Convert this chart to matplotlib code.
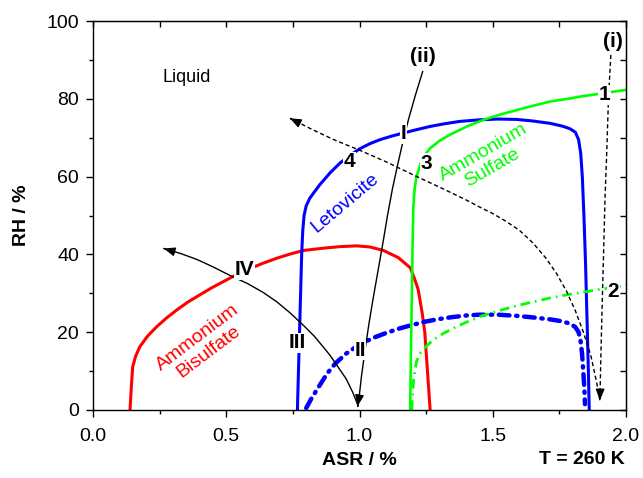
import numpy as np
import matplotlib
matplotlib.use("Agg")
import matplotlib.pyplot as plt

plt.rcParams['font.family'] = ['Liberation Sans', 'DejaVu Sans']

# Ammonium bisulfate (red)
abs_x = [0.139, 0.144, 0.149, 0.160, 0.176, 0.205, 0.239, 0.275, 0.314, 0.355, 0.401, 0.445,
         0.489, 0.533, 0.577, 0.633, 0.689, 0.74, 0.789, 0.864, 0.927, 0.99, 1.04, 1.09,
         1.145, 1.19, 1.205, 1.22, 1.235, 1.245, 1.255, 1.265]
abs_y = [0.0, 6.0, 11.1, 13.8, 16.3, 19.0, 21.4, 23.6, 25.7, 27.7, 29.6, 31.4,
         33.0, 34.6, 36.0, 37.6, 39.0, 40.1, 41.0, 41.6, 42.0, 42.2, 41.9, 41.0,
         39.2, 36.6, 34.0, 31.0, 25.0, 20.0, 10.0, 0.0]

# Letovicite (blue solid)
let_x = [0.767, 0.771, 0.775, 0.779, 0.783, 0.787, 0.792, 0.80, 0.814, 0.83, 0.852, 0.89,
         0.927, 0.965, 1.002, 1.04, 1.077, 1.12, 1.164, 1.21, 1.265, 1.32, 1.377, 1.45,
         1.52, 1.59, 1.65, 1.715, 1.76, 1.79, 1.81, 1.822, 1.83, 1.836, 1.842, 1.848,
         1.853, 1.858, 1.862]
let_y = [0.0, 10.0, 20.0, 30.0, 40.0, 46.0, 50.0, 52.5, 54.5, 56.0, 58.0, 61.0,
         63.5, 65.5, 67.2, 68.5, 69.5, 70.4, 71.2, 72.0, 72.9, 73.6, 74.2, 74.6,
         74.8, 74.7, 74.3, 73.7, 73.0, 72.3, 71.4, 69.5, 66.0, 60.0, 50.0, 38.0,
         25.0, 12.0, 0.0]

# Letovicite (blue dash-dot)
let2_x = [0.80, 0.82, 0.852, 0.88, 0.91, 0.95, 1.0, 1.05, 1.10, 1.152, 1.2, 1.246, 1.3,
          1.35, 1.402, 1.45, 1.52, 1.59, 1.65, 1.715, 1.76, 1.79, 1.81, 1.822, 1.83,
          1.835, 1.84, 1.844, 1.846]
let2_y = [0.5, 3.0, 6.5, 9.5, 12.0, 14.5, 16.8, 18.5, 19.8, 21.0, 21.9, 22.7, 23.4,
          23.9, 24.3, 24.5, 24.5, 24.2, 23.8, 23.3, 22.8, 22.2, 21.3, 20.0, 17.5,
          14.5, 9.5, 5.0, 1.5]

# Ammonium sulfate (green solid)
as_x = [1.19, 1.193, 1.196, 1.199, 1.202, 1.207, 1.214, 1.23, 1.25, 1.265, 1.30, 1.34,
        1.40, 1.465, 1.53, 1.59, 1.65, 1.715, 1.78, 1.84, 1.92, 2.0]
as_y = [0.0, 15.0, 28.0, 42.0, 52.0, 57.0, 60.0, 63.5, 66.0, 67.3, 69.2, 70.8,
        72.8, 74.6, 76.0, 77.1, 78.2, 79.3, 80.0, 80.7, 81.5, 82.3]

# Ammonium sulfate (green dash-dot)
as2_x = [1.196, 1.199, 1.203, 1.214, 1.23, 1.252, 1.28, 1.315, 1.36, 1.402, 1.46, 1.527,
         1.59, 1.652, 1.715, 1.777, 1.84, 1.89, 1.95, 2.0]
as2_y = [0.0, 4.0, 8.0, 12.5, 14.8, 16.5, 18.2, 19.7, 21.3, 22.6, 24.2, 25.6,
         26.8, 27.8, 28.8, 29.6, 30.3, 30.9, 31.5, 32.1]

# path (ii): down to the bottom
p2_x = [1.237, 1.21, 1.185, 1.163, 1.143, 1.124, 1.105, 1.088, 1.07, 1.052, 1.035, 1.02,
        1.008, 0.998, 0.993]
p2_y = [87.0, 81.0, 75.0, 69.0, 63.0, 57.0, 50.0, 43.0, 36.0, 29.0, 22.0, 15.0,
        9.0, 3.0, 1.0]

# path (ii): back up through III and IV
p2b_x = [0.995, 0.975, 0.95, 0.92, 0.89, 0.864, 0.83, 0.789, 0.739, 0.69, 0.639, 0.58,
         0.514, 0.45, 0.39, 0.33, 0.266]
p2b_y = [1.0, 4.5, 8.0, 11.0, 14.0, 16.2, 19.0, 21.8, 25.0, 27.8, 30.2, 32.5,
         34.6, 36.8, 38.7, 40.2, 41.5]

# path (i): down
p1_x = [1.943, 1.938, 1.934, 1.928, 1.921, 1.916, 1.911, 1.906, 1.902]
p1_y = [91.3, 85.0, 79.7, 67.0, 54.0, 41.0, 28.3, 15.0, 2.5]

# path (i): back up through 3 and 4
p1b_x = [1.902, 1.89, 1.868, 1.84, 1.81, 1.777, 1.74, 1.70, 1.65, 1.60, 1.55, 1.50,
         1.45, 1.40, 1.30, 1.20, 1.10, 1.00, 0.90, 0.82, 0.739]
p1b_y = [2.5, 7.0, 14.0, 20.0, 25.5, 30.5, 35.0, 39.0, 43.0, 46.2, 48.5, 50.5,
         52.2, 54.0, 57.3, 60.5, 63.8, 66.8, 69.6, 72.2, 75.0]

point_labels = ['(ii)', '(i)', '1', '2', '3', '4', 'I', 'II', 'III', 'IV']
point_x = [1.239, 1.952, 1.921, 1.952, 1.252, 0.964, 1.164, 1.002, 0.767, 0.57]
point_y = [90.8, 94.7, 81.0, 30.4, 63.4, 63.8, 71.1, 15.4, 17.3, 36.0]

fig = plt.figure(figsize=(6.43, 4.78), dpi=100)
ax = fig.add_axes([0.1446, 0.1423, 0.829, 0.8137])

ax.plot(abs_x, abs_y, color='#ff0000', lw=2.2)
ax.plot(let_x, let_y, color='#0000ff', lw=2.2)
ax.plot(let2_x, let2_y, color='#0000ff', lw=3.2, ls=(0, (2.4, 1.5, 0.3, 1.5)),
        dash_capstyle='round')
ax.plot(as_x, as_y, color='#00ff00', lw=1.9)
ax.plot(as2_x, as2_y, color='#00ff00', lw=2.0, ls=(0, (3.5, 1.8, 0.6, 1.8)))

ax.plot(p2_x, p2_y, color='black', lw=1.0)
ax.plot(p2b_x, p2b_y, color='black', lw=1.0)
ax.plot(p1_x, p1_y, color='black', lw=1.0, ls=(0, (3, 2)))
ax.plot(p1b_x, p1b_y, color='black', lw=1.0, ls=(0, (3, 2)))

# arrow heads at the ends of the paths
for xs, ys in [(p2_x, p2_y), (p2b_x, p2b_y), (p1_x, p1_y), (p1b_x, p1b_y)]:
    x0, y0 = xs[-2], ys[-2]
    x1, y1 = xs[-1], ys[-1]
    ax.annotate('', xy=(x1, y1), xytext=(x1 - 0.05 * (x1 - x0), y1 - 0.05 * (y1 - y0)),
                arrowprops=dict(arrowstyle='-|>,head_length=0.55,head_width=0.22',
                                color='black', lw=1.0, shrinkA=0, shrinkB=0,
                                mutation_scale=12))

for t, x, y in zip(point_labels, point_x, point_y):
    ax.text(x, y, t, fontsize=15, fontweight='bold', ha='center', va='center',
            bbox=dict(facecolor='white', edgecolor='none', pad=0.5), zorder=5)

ax.text(0.352, 85.5, 'Liquid', fontsize=13, ha='center', va='center')
ax.text(0.946, 53.1, 'Letovicite', fontsize=14, color='#0000ff', rotation=40,
        ha='center', va='center', rotation_mode='anchor')
ax.text(1.48, 64.3, 'Ammonium\nSulfate', fontsize=14, color='#00ff00', rotation=30,
        ha='center', va='center', rotation_mode='anchor', multialignment='center',
        linespacing=1.05)
ax.text(0.414, 16.7, 'Ammonium\nBisulfate', fontsize=14, color='#ff0000', rotation=37,
        ha='center', va='center', rotation_mode='anchor', multialignment='center',
        linespacing=1.05)

ax.set_xlim(0, 2.0)
ax.set_ylim(0, 100)
ax.set_xticks([0.0, 0.5, 1.0, 1.5, 2.0])
ax.set_xticklabels(['0.0', '0.5', '1.0', '1.5', '2.0'])
ax.set_xticks(np.arange(0, 2.01, 0.25), minor=True)
ax.set_yticks([0, 20, 40, 60, 80, 100])
ax.set_yticks(np.arange(0, 101, 10), minor=True)
ax.tick_params(which='major', direction='out', length=5, width=1, labelsize=14)
ax.tick_params(axis='x', which='major', pad=8)
ax.tick_params(axis='y', which='major', pad=5)
ax.tick_params(which='minor', direction='out', length=3, width=1)

top = ax.secondary_xaxis('top')
top.set_xticks(np.arange(0, 2.01, 0.25))
top.tick_params(direction='in', length=4.5, width=1, labeltop=False)
right = ax.secondary_yaxis('right')
right.set_yticks(np.arange(0, 101, 10))
right.tick_params(direction='in', length=4.5, width=1, labelright=False)

for s in ax.spines.values():
    s.set_linewidth(1.0)

ax.set_xlabel('ASR / %', fontsize=14, fontweight='bold', labelpad=5)
ax.set_ylabel('RH / %', fontsize=14, fontweight='bold', labelpad=12)
fig.text(0.972, 0.038, 'T = 260 K', fontsize=14, fontweight='bold', ha='right', va='center')

fig.savefig('out.png', dpi=100)
